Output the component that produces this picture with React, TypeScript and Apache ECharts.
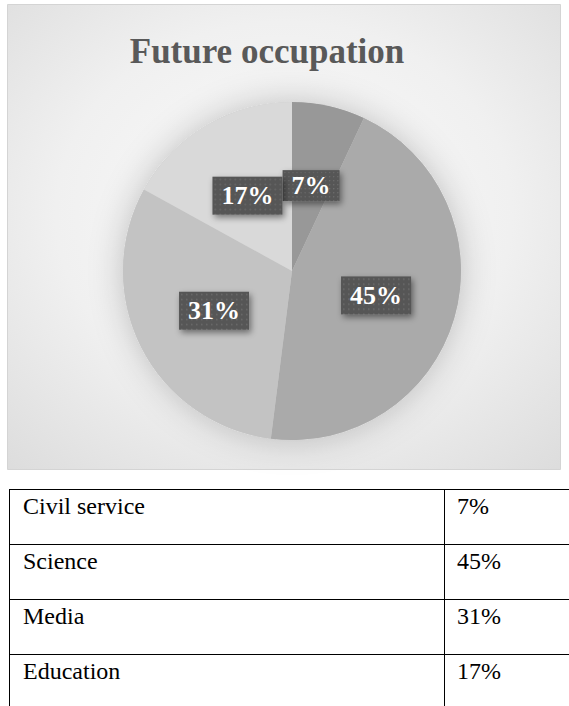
import React, { useEffect, useRef } from "react";
import * as echarts from "echarts";

const chartTitle = "Future occupation";
const categories = ["Civil service", "Science", "Media", "Education"];
const values = [7, 45, 31, 17];
const tableValueLabels = ["7%", "45%", "31%", "17%"];
const sliceColors = ["#989898", "#aaaaaa", "#c3c3c3", "#d9d9d9"];

const SERIF = "Liberation Serif";

function makePattern(w: number, h: number) {
  const c = document.createElement("canvas");
  c.width = w;
  c.height = h;
  const ctx = c.getContext("2d")!;
  ctx.fillStyle = "#565656";
  ctx.fillRect(0, 0, w, h);
  ctx.fillStyle = "#6d6d6d";
  for (let y = 2; y < h; y += 5) {
    for (let x = 2; x < w; x += 5) {
      ctx.fillRect(x, y, 1.5, 1.5);
    }
  }
  return c;
}

export default function App() {
  const ref = useRef<HTMLDivElement>(null);
  useEffect(() => {
    if (!ref.current) return;
    const chart = echarts.init(ref.current, undefined, { renderer: "svg" });
    const pattern = makePattern(70, 38);

    const tableLeft = 9;
    const tableDivider = 444;
    const tableTop = 489;
    const rowH = 55;
    const tableGraphics: any[] = [];
    categories.forEach((name, i) => {
      const top = tableTop + i * rowH;
      tableGraphics.push({
        type: "line",
        shape: { x1: tableLeft, y1: top + 0.5, x2: 570, y2: top + 0.5 },
        style: { stroke: "#000", lineWidth: 1 },
      });
      tableGraphics.push({
        type: "text",
        x: 23,
        y: top + 17,
        style: {
          text: name,
          fontSize: 24,
          fontFamily: SERIF,
          fill: "#000",
          textAlign: "left",
          textVerticalAlign: "middle",
        },
      });
      tableGraphics.push({
        type: "text",
        x: 457,
        y: top + 17,
        style: {
          text: tableValueLabels[i],
          fontSize: 24,
          fontFamily: SERIF,
          fill: "#000",
          textAlign: "left",
          textVerticalAlign: "middle",
        },
      });
    });
    tableGraphics.push({
      type: "line",
      shape: { x1: tableLeft + 0.5, y1: tableTop, x2: tableLeft + 0.5, y2: 706 },
      style: { stroke: "#000", lineWidth: 1 },
    });
    tableGraphics.push({
      type: "line",
      shape: { x1: tableDivider + 0.5, y1: tableTop, x2: tableDivider + 0.5, y2: 706 },
      style: { stroke: "#000", lineWidth: 1 },
    });

    chart.setOption({
      animation: false,
      backgroundColor: "#ffffff",
      graphic: [
        {
          type: "rect",
          z: -10,
          shape: { x: 7.5, y: 4.5, width: 553, height: 465 },
          style: {
            fill: {
              type: "radial",
              x: 0.5,
              y: 0.45,
              r: 0.75,
              colorStops: [
                { offset: 0, color: "#fbfbfb" },
                { offset: 0.55, color: "#f0f0f0" },
                { offset: 1, color: "#dcdcdc" },
              ],
            },
            stroke: "#d4d4d4",
            lineWidth: 1,
          },
        },
        {
          type: "text",
          x: 267,
          y: 51,
          style: {
            text: chartTitle,
            fontSize: 35,
            fontWeight: "bold",
            fontFamily: SERIF,
            fill: "#595959",
            textAlign: "center",
            textVerticalAlign: "middle",
          },
        },
        ...tableGraphics,
      ],
      series: [
        {
          type: "pie",
          silent: true,
          z: 1,
          center: [292, 271],
          radius: [0, 169],
          label: { show: false },
          labelLine: { show: false },
          itemStyle: {
            color: "#c8c8c8",
            shadowBlur: 34,
            shadowColor: "rgba(0,0,0,0.22)",
          },
          data: [{ value: 1, name: "shadow" }],
        },
        {
          type: "pie",
          z: 2,
          center: [292, 271],
          radius: [0, 169],
          startAngle: 90,
          clockwise: true,
          itemStyle: { borderWidth: 0 },
          label: {
            show: true,
            position: "inside",
            formatter: (p: any) => `${p.value}%`,
            fontFamily: SERIF,
            fontWeight: "bold",
            fontSize: 26,
            color: "#ffffff",
            backgroundColor: { image: pattern },
            padding: [8, 9, 6, 9],
            shadowColor: "rgba(0,0,0,0.45)",
            shadowBlur: 6,
            shadowOffsetX: 2,
            shadowOffsetY: 3,
          },
          labelLine: { show: false },
          emphasis: { disabled: true },
          data: categories.map((name, i) => ({
            name,
            value: values[i],
            itemStyle: { color: sliceColors[i] },
          })),
        },
      ],
    });
    return () => chart.dispose();
  }, []);
  return (
    <div
      ref={ref}
      style={{ position: "absolute", left: 0, top: 0, width: 569, height: 706 }}
    />
  );
}
